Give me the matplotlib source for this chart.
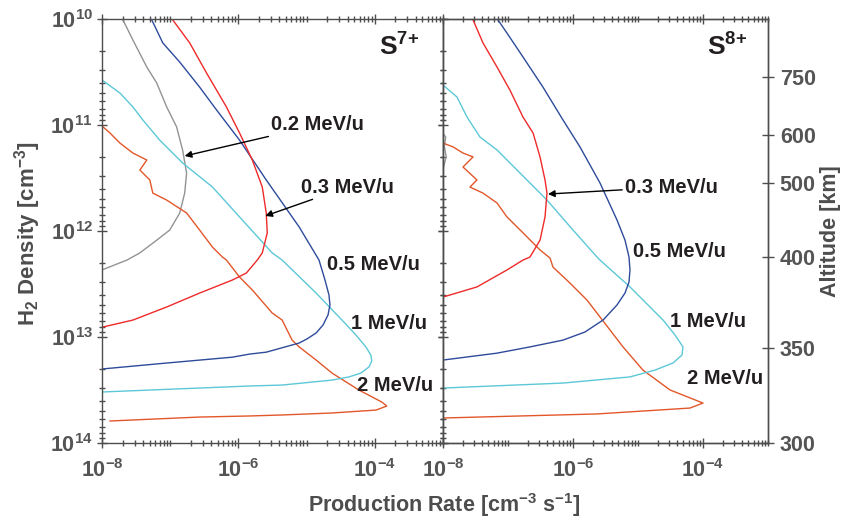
import numpy as np
import matplotlib
matplotlib.use('Agg')
import matplotlib.pyplot as plt
from matplotlib.ticker import FixedLocator, LogLocator, NullLocator, FuncFormatter, NullFormatter

plt.rcParams.update({
    'font.family': ['Liberation Sans', 'DejaVu Sans'],
    'font.weight': 'bold',
    'mathtext.fontset': 'custom',
    'mathtext.rm': 'Liberation Sans:bold',
    'mathtext.it': 'Liberation Sans:bold',
    'mathtext.bf': 'Liberation Sans:bold',
    'mathtext.default': 'rm',
    'axes.linewidth': 1.0,
})

### DATA ###
# S7+ panel: production rate [cm-3 s-1] vs H2 density [cm-3]
s7_02_rate = [2.03e-8, 2.84e-8, 4.54e-8, 6.35e-8, 8.89e-8, 1.24e-7, 1.52e-7, 1.74e-7, 1.63e-7,
              1.38e-7, 9.84e-8, 6.35e-8, 3.59e-8, 2.32e-8, 1.0e-8]
s7_02_dens = [1.02e10, 1.58e10, 2.84e10, 4.02e10, 6.76e10, 1.04e11, 1.72e11, 2.84e11, 4.39e11,
              6.76e11, 9.79e11, 1.22e12, 1.61e12, 1.88e12, 2.33e12]

s7_03_rate = [1.09e-7, 1.93e-7, 3.41e-7, 6.68e-7, 1.04e-6, 1.60e-6, 2.24e-6, 2.56e-6, 2.65e-6,
              2.24e-6, 1.89e-6, 1.31e-6, 8.17e-7, 2.70e-7, 8.89e-8, 2.84e-8, 1.03e-8]
s7_03_dens = [1.02e10, 1.68e10, 3.23e10, 6.76e10, 1.19e11, 2.14e11, 3.85e11, 6.76e11, 1.04e12,
              1.61e12, 1.88e12, 2.49e12, 2.90e12, 3.85e12, 5.21e12, 6.92e12, 8.05e12]

s7_05_rate = [5.37e-8, 7.78e-8, 1.38e-7, 2.70e-7, 4.78e-7, 1.04e-6, 2.56e-6, 7.78e-6, 1.52e-5,
              1.86e-5, 2.13e-5, 2.20e-5, 2.06e-5, 1.74e-5, 1.38e-5, 1.02e-5, 7.78e-6, 2.56e-6,
              1.45e-6, 8.17e-7, 8.89e-8, 1.03e-8]
s7_05_dens = [1.02e10, 1.68e10, 2.55e10, 4.39e10, 7.21e10, 1.39e11, 3.30e11, 9.16e11, 1.88e12,
              2.90e12, 4.02e12, 4.99e12, 6.20e12, 7.71e12, 9.16e12, 1.04e13, 1.14e13, 1.39e13,
              1.45e13, 1.55e13, 1.76e13, 2.00e13]

s7_1_rate = [1.0e-8, 1.83e-8, 2.84e-8, 3.97e-8, 7.03e-8, 1.52e-7, 4.17e-7, 1.14e-6, 3.13e-6, 4.38e-6,
             1.38e-5, 3.30e-5, 5.28e-5, 7.39e-5, 8.75e-5, 9.04e-5, 8.19e-5, 6.25e-5, 4.17e-5, 2.36e-5,
             4.38e-6, 1.45e-6, 2.70e-7, 1.03e-8]
s7_1_dens = [3.76e10, 4.99e10, 6.76e10, 8.97e10, 1.39e11, 2.28e11, 3.85e11, 7.87e11, 1.61e12, 1.88e12,
             3.85e12, 6.92e12, 9.57e12, 1.24e13, 1.48e13, 1.68e13, 1.92e13, 2.19e13, 2.38e13, 2.55e13,
             2.84e13, 2.90e13, 3.03e13, 3.30e13]

s7_2_rate = [1.03e-8, 1.31e-8, 1.83e-8, 2.84e-8, 4.54e-8, 3.59e-8, 5.02e-8, 5.56e-8, 8.89e-8, 1.74e-7,
             2.70e-7, 4.17e-7, 5.83e-7, 6.68e-7, 1.04e-6, 1.60e-6, 3.13e-6, 4.38e-6, 6.13e-6, 7.78e-6,
             1.38e-5, 2.36e-5, 5.83e-5, 1.26e-4, 1.50e-4, 1.04e-4, 2.36e-5, 4.38e-6, 1.45e-6, 2.70e-7, 1.31e-8]
s7_2_dens = [1.04e11, 1.19e11, 1.48e11, 1.84e11, 2.14e11, 2.66e11, 3.30e11, 4.39e11, 5.11e11, 6.76e11,
             9.79e11, 1.42e12, 1.76e12, 1.88e12, 2.72e12, 3.60e12, 5.94e12, 6.92e12, 1.07e13, 1.24e13,
             1.65e13, 2.19e13, 3.16e13, 4.10e13, 4.48e13, 4.89e13, 5.21e13, 5.44e13, 5.56e13, 5.69e13, 6.20e13]

# S8+ panel
s8_02_rate = [9.0e-9, 1.1e-8, 1.05e-8, 1.12e-8, 1.0e-8, 9.0e-9]
s8_02_dens = [1.1e11, 1.3e11, 1.6e11, 2.0e11, 2.6e11, 3.0e11]

s8_03_rate = [2.90e-8, 4.12e-8, 6.78e-8, 1.07e-7, 1.70e-7, 2.43e-7, 3.11e-7, 3.71e-7, 3.98e-7,
              3.71e-7, 3.11e-7, 2.18e-7, 1.70e-7, 9.66e-8, 3.33e-8, 1.0e-8]
s8_03_dens = [1.02e10, 1.68e10, 2.84e10, 4.68e10, 8.41e10, 1.19e11, 2.00e11, 3.30e11, 4.39e11,
              7.38e11, 1.22e12, 1.76e12, 1.88e12, 2.33e12, 3.37e12, 4.20e12]

s8_05_rate = [7.02e-8, 9.66e-8, 1.70e-7, 3.45e-7, 7.02e-7, 1.28e-6, 2.60e-6, 4.75e-6, 6.31e-6,
              7.27e-6, 7.53e-6, 7.27e-6, 6.31e-6, 4.75e-6, 2.90e-6, 1.53e-6, 7.02e-7, 2.18e-7,
              6.78e-8, 1.0e-8]
s8_05_dens = [1.02e10, 1.36e10, 2.28e10, 4.39e10, 8.97e10, 1.61e11, 3.52e11, 7.87e11, 1.22e12,
              1.76e12, 2.33e12, 3.03e12, 3.85e12, 4.99e12, 6.92e12, 8.97e12, 1.07e13, 1.24e13,
              1.42e13, 1.65e13]

s8_1_rate = [1.0e-8, 1.64e-8, 2.34e-8, 3.71e-8, 6.78e-8, 1.53e-7, 3.98e-7, 1.0e-6, 2.34e-6, 2.60e-6,
             7.53e-6, 2.43e-5, 3.71e-5, 4.92e-5, 4.75e-5, 3.45e-5, 1.83e-5, 7.53e-6, 7.02e-7, 1.0e-8]
s8_1_dens = [4.20e10, 5.44e10, 8.41e10, 1.30e11, 1.72e11, 2.84e11, 5.11e11, 9.79e11, 1.76e12, 1.88e12,
             3.37e12, 6.92e12, 9.57e12, 1.24e13, 1.48e13, 1.76e13, 2.05e13, 2.38e13, 2.72e13, 3.03e13]

s8_2_rate = [1.0e-8, 1.43e-8, 2.03e-8, 2.90e-8, 2.03e-8, 3.33e-8, 2.60e-8, 4.12e-8, 6.78e-8, 9.66e-8,
             1.70e-7, 3.11e-7, 4.43e-7, 4.92e-7, 8.99e-7, 1.64e-6, 3.71e-6, 5.88e-6, 1.19e-5, 3.11e-5,
             1.0e-4, 6.31e-5, 2.34e-6, 1.0e-8]
s8_2_dens = [1.48e11, 1.61e11, 1.84e11, 2.00e11, 2.49e11, 3.30e11, 3.85e11, 4.39e11, 5.44e11, 7.38e11,
             1.04e12, 1.51e12, 1.80e12, 2.19e12, 3.10e12, 4.48e12, 8.59e12, 1.24e13, 2.05e13, 3.16e13,
             4.20e13, 4.68e13, 5.32e13, 5.81e13]

alt_km = ['300', '350', '400', '500', '600', '750']
alt_dens = [1.0e14, 1.27e13, 1.76e12, 3.52e11, 1.24e11, 3.52e10]

c_02 = '#939393'
c_03 = '#ee2a2a'
c_05 = '#2e4b9b'
c_1 = '#5cc8d7'
c_2 = '#e2572a'
axcol = '#4d4d4d'
txtcol = '#231f20'

### PLOT ###
fig = plt.figure(figsize=(8.46, 5.2), dpi=100)
ax1 = fig.add_axes([102/846, 77/520, 341/846, 424/520])
ax2 = fig.add_axes([443/846, 77/520, 325/846, 424/520])

lw = 1.0
tls = 15.5

def decade(v, p):
    return '$\\mathregular{10^{%d}}$' % int(round(np.log10(v)))

for ax in (ax1, ax2):
    ax.set_xscale('log')
    ax.set_yscale('log')
    ax.set_xlim(1e-8, 1e-3)
    ax.set_ylim(1e14, 1e10)
    ax.xaxis.set_major_locator(FixedLocator([1e-8, 1e-6, 1e-4]))
    ax.xaxis.set_minor_locator(LogLocator(base=10, subs=np.arange(1, 10), numticks=20))
    ax.xaxis.set_major_formatter(FuncFormatter(decade))
    ax.xaxis.set_minor_formatter(NullFormatter())
    ax.yaxis.set_major_locator(LogLocator(base=10, numticks=10))
    ax.yaxis.set_minor_locator(LogLocator(base=10, subs=np.arange(2, 10), numticks=10))
    ax.yaxis.set_major_formatter(FuncFormatter(decade))
    ax.yaxis.set_minor_formatter(NullFormatter())
    ax.tick_params(which='both', direction='inout', colors=axcol, labelcolor='#555555',
                   top=True, bottom=True, labelsize=tls, width=1.0)
    ax.tick_params(which='major', length=7)
    ax.tick_params(which='minor', length=4.5)
    ax.tick_params(axis='x', pad=8)
    for s in ax.spines.values():
        s.set_color(axcol)

ax1.tick_params(which='both', left=True, right=True)
ax1.tick_params(axis='y', pad=3)
ax2.tick_params(which='both', left=True, right=False, labelleft=False)

ax1.plot(s7_02_rate, s7_02_dens, color=c_02, lw=lw)
ax1.plot(s7_2_rate, s7_2_dens, color=c_2, lw=lw)
ax1.plot(s7_1_rate, s7_1_dens, color=c_1, lw=lw)
ax1.plot(s7_05_rate, s7_05_dens, color=c_05, lw=lw)
ax1.plot(s7_03_rate, s7_03_dens, color=c_03, lw=lw)

ax2.plot(s8_02_rate, s8_02_dens, color=c_02, lw=lw)
ax2.plot(s8_2_rate, s8_2_dens, color=c_2, lw=lw)
ax2.plot(s8_1_rate, s8_1_dens, color=c_1, lw=lw)
ax2.plot(s8_05_rate, s8_05_dens, color=c_05, lw=lw)
ax2.plot(s8_03_rate, s8_03_dens, color=c_03, lw=lw)

# altitude axis
axr = ax2.twinx()
axr.set_yscale('log')
axr.set_ylim(1e14, 1e10)
axr.yaxis.set_major_locator(FixedLocator(alt_dens))
axr.yaxis.set_minor_locator(NullLocator())
axr.set_yticklabels(alt_km)
axr.tick_params(direction='inout', length=9, width=1.0, colors=axcol, labelcolor='#555555',
                labelsize=tls, pad=4)
for s in axr.spines.values():
    s.set_color(axcol)

arr = dict(arrowstyle='-|>', color='black', lw=1.0, mutation_scale=10, shrinkA=0, shrinkB=0)
tk = dict(fontsize=14.5, color=txtcol, va='center', ha='left')

ax1.annotate('0.2 MeV/u', xy=(1.63e-7, 1.96e11), xytext=(3.03e-6, 1.0e11), arrowprops=arr, **tk)
ax1.annotate('0.3 MeV/u', xy=(2.48e-6, 7.21e11), xytext=(8.3e-6, 3.85e11), arrowprops=arr, **tk)
ax1.text(2.0e-5, 2.09e12, '0.5 MeV/u', **tk)
ax1.text(4.5e-5, 7.5e12, '1 MeV/u', **tk)
ax1.text(5.5e-5, 2.84e13, '2 MeV/u', **tk)
ax1.text(1.14e-4, 1.84e10, '$\\mathregular{S^{7{+}}}$', fontsize=19, color=txtcol, va='center', ha='left')

ax2.annotate('0.3 MeV/u', xy=(4.12e-7, 4.48e11), xytext=(6.3e-6, 3.85e11), arrowprops=arr, **tk)
ax2.text(8.4e-6, 1.55e12, '0.5 MeV/u', **tk)
ax2.text(3.1e-5, 7.2e12, '1 MeV/u', **tk)
ax2.text(5.7e-5, 2.49e13, '2 MeV/u', **tk)
ax2.text(1.15e-4, 1.84e10, '$\\mathregular{S^{8{+}}}$', fontsize=19, color=txtcol, va='center', ha='left')

fig.text(28/846, 1 - 234/520, 'H$_2$ Density [cm$^{-3}$]', rotation=90, fontsize=16,
         color=axcol, ha='center', va='center')
fig.text(444/846, 1 - 505/520, 'Production Rate [cm$^{-3}$ s$^{-1}$]', fontsize=15.5,
         color=axcol, ha='center', va='center')
fig.text(830/846, 1 - 231/520, 'Altitude [km]', rotation=90, fontsize=15.5,
         color=axcol, ha='center', va='center')

fig.savefig('out.png', dpi=100)
